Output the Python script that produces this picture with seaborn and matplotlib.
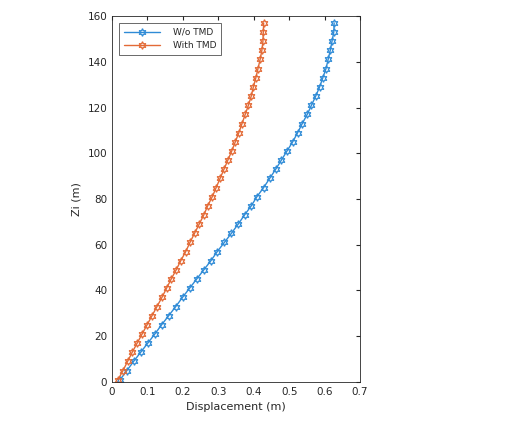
import matplotlib
matplotlib.use("Agg")
import matplotlib.pyplot as plt
import seaborn as sns
import pandas as pd

z = [1,5,9,13,17,21,25,29,33,37,41,45,49,53,57,61,65,69,73,77,
     81,85,89,93,97,101,105,109,113,117,121,125,129,133,137,141,145,149,153,157]
wo_tmd = [0.023,0.042,0.061,0.081,0.101,0.121,0.140,0.160,0.180,0.199,0.219,0.239,0.259,0.279,0.297,0.317,0.337,0.356,0.374,0.393,
          0.409,0.428,0.445,0.462,0.478,0.494,0.510,0.524,0.537,0.551,0.563,0.575,0.586,0.595,0.604,0.610,0.616,0.621,0.626,0.627]
with_tmd = [0.017,0.031,0.044,0.057,0.071,0.085,0.099,0.113,0.127,0.141,0.154,0.167,0.181,0.194,0.208,0.220,0.233,0.246,0.259,0.270,
            0.283,0.294,0.305,0.316,0.327,0.338,0.348,0.358,0.367,0.376,0.385,0.393,0.399,0.406,0.412,0.418,0.423,0.426,0.427,0.428]

sns.set_style("white")
plt.rcParams['font.family'] = ['DejaVu Sans']
fig = plt.figure(figsize=(5.08, 4.45), dpi=100)
ax = fig.add_axes([0.2205, 0.1416, 0.4882, 0.8224])

df = pd.concat([pd.DataFrame({'x': wo_tmd, 'z': z, 's': 'W/o TMD'}),
                pd.DataFrame({'x': with_tmd, 'z': z, 's': 'With TMD'})])
sns.lineplot(data=df, x='x', y='z', hue='s', sort=False, estimator=None,
             palette=['#2F8BD6', '#E36A36'], marker=(6, 1, 0), markersize=5.5,
             markerfacecolor='none', markeredgewidth=0.9, linewidth=1.0, ax=ax)
for l in ax.lines:
    l.set_markeredgecolor(l.get_color())
    l.set_markerfacecolor('none')
ax.set_xlim(0, 0.7)
ax.set_ylim(0, 160)
ax.set_xticks([0, 0.1, 0.2, 0.3, 0.4, 0.5, 0.6, 0.7])
ax.set_xticklabels(['0', '0.1', '0.2', '0.3', '0.4', '0.5', '0.6', '0.7'])
ax.set_yticks(range(0, 161, 20))
ax.tick_params(direction='in', top=True, right=True, labelsize=7.5, length=3, colors='#262626')
for s in ax.spines.values():
    s.set_color('#262626'); s.set_linewidth(0.6)
ax.set_xlabel('Displacement (m)', fontsize=8)
ax.set_ylabel('Zi (m)', fontsize=8)
leg = ax.legend(loc='upper left', fontsize=6.5, frameon=True, fancybox=False, edgecolor='#262626',
                handlelength=4, borderaxespad=0.8, borderpad=0.5, handletextpad=1.5)
for h in leg.get_lines():
    h.set_markerfacecolor('none')
leg.get_frame().set_linewidth(0.6)
fig.savefig('out.png', dpi=100)
